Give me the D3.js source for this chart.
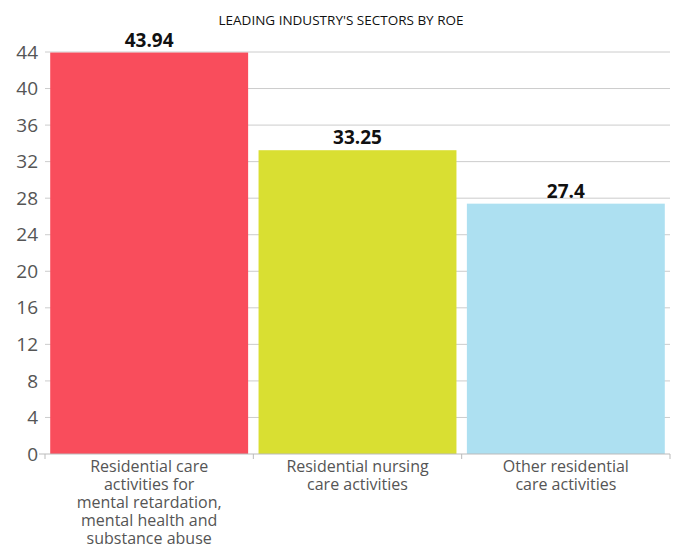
<!DOCTYPE html>
<html>
<head>
<meta charset="utf-8">
<script src="https://cdn.jsdelivr.net/npm/d3@7"></script>
<style>
  body { margin: 0; background: #fff; }
  text { font-family: "Open Sans", "Noto Sans", sans-serif; }
</style>
</head>
<body>
<div class="chart"></div>
<script>
const W = 678, H = 546;
const margin = { top: 52, right: 8, bottom: 92, left: 45 };
const width = W - margin.left - margin.right;
const height = H - margin.top - margin.bottom;

// data
const title = "LEADING INDUSTRY'S SECTORS BY ROE";
const categories = [
    ["Residential care", "activities for", "mental retardation,", "mental health and", "substance abuse"],
    ["Residential nursing", "care activities"],
    ["Other residential", "care activities"]
];
const values = [43.94, 33.25, 27.4];
const valueLabels = ["43.94", "33.25", "27.4"];
const colors = ["#f94d5c", "#d9df32", "#ade0f1"];
const yTicks = [0, 4, 8, 12, 16, 20, 24, 28, 32, 36, 40, 44];

const svg = d3.select(".chart").append("svg")
    .attr("width", W)
    .attr("height", H)
    .append("g")
    .attr("transform", `translate(${margin.left},${margin.top})`);

const x = d3.scaleBand().domain(d3.range(values.length)).range([0, width])
    .paddingInner(0.05).paddingOuter(0.025);
const y = d3.scaleLinear().domain([0, 44]).range([height, 0]);

// title
svg.append("text")
    .attr("x", 341 - margin.left)
    .attr("y", 25 - margin.top)
    .attr("text-anchor", "middle")
    .style("font-size", "13.5px")
    .style("fill", "#111")
    .text(title);

// gridlines
svg.append("g")
    .selectAll("line")
    .data(yTicks.filter(d => d > 0))
    .enter().append("line")
    .attr("x1", 0).attr("x2", width)
    .attr("y1", d => y(d)).attr("y2", d => y(d))
    .attr("stroke", "#ccc")
    .attr("stroke-width", 1);

// y axis
const yAxis = svg.append("g")
    .call(d3.axisLeft(y).tickValues(yTicks).tickSize(0).tickPadding(7));
yAxis.select(".domain").remove();
yAxis.selectAll("text")
    .style("font-size", "19px")
    .style("fill", "#555");
svg.append("line")
    .attr("x1", -6).attr("x2", 0)
    .attr("y1", y(0)).attr("y2", y(0))
    .attr("stroke", "#bbb");

// bars
svg.selectAll(".bar")
    .data(values)
    .enter().append("rect")
    .attr("class", "bar")
    .attr("x", (d, i) => x(i))
    .attr("width", x.bandwidth())
    .attr("y", d => y(d))
    .attr("height", d => height - y(d))
    .attr("fill", (d, i) => colors[i]);

// value labels
svg.selectAll(".val")
    .data(values)
    .enter().append("text")
    .attr("class", "val")
    .attr("x", (d, i) => x(i) + x.bandwidth() / 2)
    .attr("y", d => y(d) - 6)
    .attr("text-anchor", "middle")
    .style("font-size", "19px")
    .style("font-weight", "bold")
    .style("fill", "#111")
    .text((d, i) => valueLabels[i]);

// x axis
svg.append("line")
    .attr("x1", 0).attr("x2", width)
    .attr("y1", height).attr("y2", height)
    .attr("stroke", "#bbb");
svg.append("g")
    .selectAll("line")
    .data(d3.range(values.length + 1))
    .enter().append("line")
    .attr("x1", i => i * x.step())
    .attr("x2", i => i * x.step())
    .attr("y1", height).attr("y2", height + 5)
    .attr("stroke", "#bbb");

const labels = svg.selectAll(".xlab")
    .data(categories)
    .enter().append("text")
    .attr("class", "xlab")
    .attr("text-anchor", "middle")
    .attr("transform", (d, i) => `translate(${x(i) + x.bandwidth() / 2},${height + 18})`)
    .style("font-size", "16px")
    .style("fill", "#555");
labels.selectAll("tspan")
    .data(d => d)
    .enter().append("tspan")
    .attr("x", 0)
    .attr("y", (d, i) => i * 18)
    .text(d => d);
</script>
</body>
</html>
